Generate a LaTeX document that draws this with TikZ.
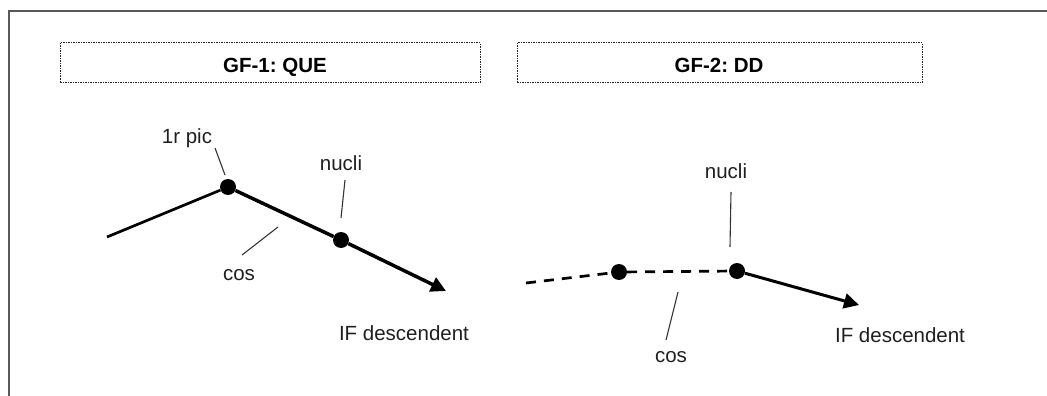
\documentclass[tikz,border=0pt]{standalone}
\usepackage{fontspec}
\setmainfont{Liberation Sans}
\frenchspacing
\usetikzlibrary{arrows.meta}
\tikzset{
  lbl/.style = {inner sep=0pt, anchor=base, text=black!88,
    font=\fontsize{20.5}{24}\selectfont},% etiqueta
  titol/.style = {lbl, text=black, font=\fontsize{20.5}{24}\selectfont\bfseries},% titol del panell
  titolbox/.style = {draw=black!85, line width=1pt,
    dash pattern=on 1.5pt off 1pt},% caixa puntejada
  punt/.style = {circle, fill=black, inner sep=0pt, minimum size=16pt},% punt del contorn
  corba/.style = {black, line width=2.7pt},% contorn
  corbaf/.style = {black, line width=3.5pt},% contorn, tram final
  fletxa/.style = {corbaf, -{Triangle[length=15pt,width=15pt]}},
  guia/.style = {black!80, line width=1.1pt}% linia guia
}

\begin{document}
\begin{tikzpicture}[x=1pt, y=-1pt]
	\useasboundingbox (0,0) rectangle (1047,396);
	\draw[black!65, line width=2.4pt] (9,396) -- (9,11) -- (1047,11);

	% titols
	\draw[titolbox] (60,43) rectangle (480,83);
	\draw[titolbox] (517,43) rectangle (922,83);
	\node[titol] (t1) at (275,73) {GF-1: QUE};
	\node[titol] (t2) at (719,73) {GF-2: DD};

	% GF-1
	\coordinate (iniA) at (107,237);
	\node[punt] (picA) at (228,187) {};
	\node[punt] (nucA) at (341,240) {};
	\coordinate (fiA) at (446,291);
	\draw[corba] (iniA) -- (picA);
	\draw[corbaf] (picA) -- (nucA);
	\draw[fletxa] (nucA) -- (fiA);

	\node[lbl] (lpic) at (187,143) {1r pic};
	\node[lbl] (lnucA) at (341,170) {nucli};
	\node[lbl] (lcosA) at (239,280) {cos};
	\node[lbl] (lifA) at (404,340) {IF descendent};
	\coordinate (gpic1) at (215,148);  \coordinate (gpic2) at (225,175);
	\coordinate (gnucA1) at (345,180); \coordinate (gnucA2) at (341,218);
	\coordinate (gcosA1) at (278,227); \coordinate (gcosA2) at (242,255);
	\draw[guia] (gpic1) -- (gpic2);
	\draw[guia] (gnucA1) -- (gnucA2);
	\draw[guia] (gcosA1) -- (gcosA2);

	% GF-2
	\coordinate (iniB) at (526,283);
	\node[punt] (p1B) at (619,272) {};
	\node[punt] (nucB) at (737,271) {};
	\coordinate (fiB) at (859,305);
	\draw[corba, dash pattern=on 10pt off 8pt] (iniB) -- (p1B) -- (nucB);
	\draw[fletxa, line width=3pt] (nucB) -- (fiB);

	\node[lbl] (lnucB) at (726,178) {nucli};
	\node[lbl] (lcosB) at (671,362) {cos};
	\node[lbl] (lifB) at (900,342) {IF descendent};
	\coordinate (gnucB1) at (731,192); \coordinate (gnucB2) at (730,247);
	\coordinate (gcosB1) at (678,292); \coordinate (gcosB2) at (666,340);
	\draw[guia] (gnucB1) -- (gnucB2);
	\draw[guia] (gcosB1) -- (gcosB2);
\end{tikzpicture}
\end{document}
